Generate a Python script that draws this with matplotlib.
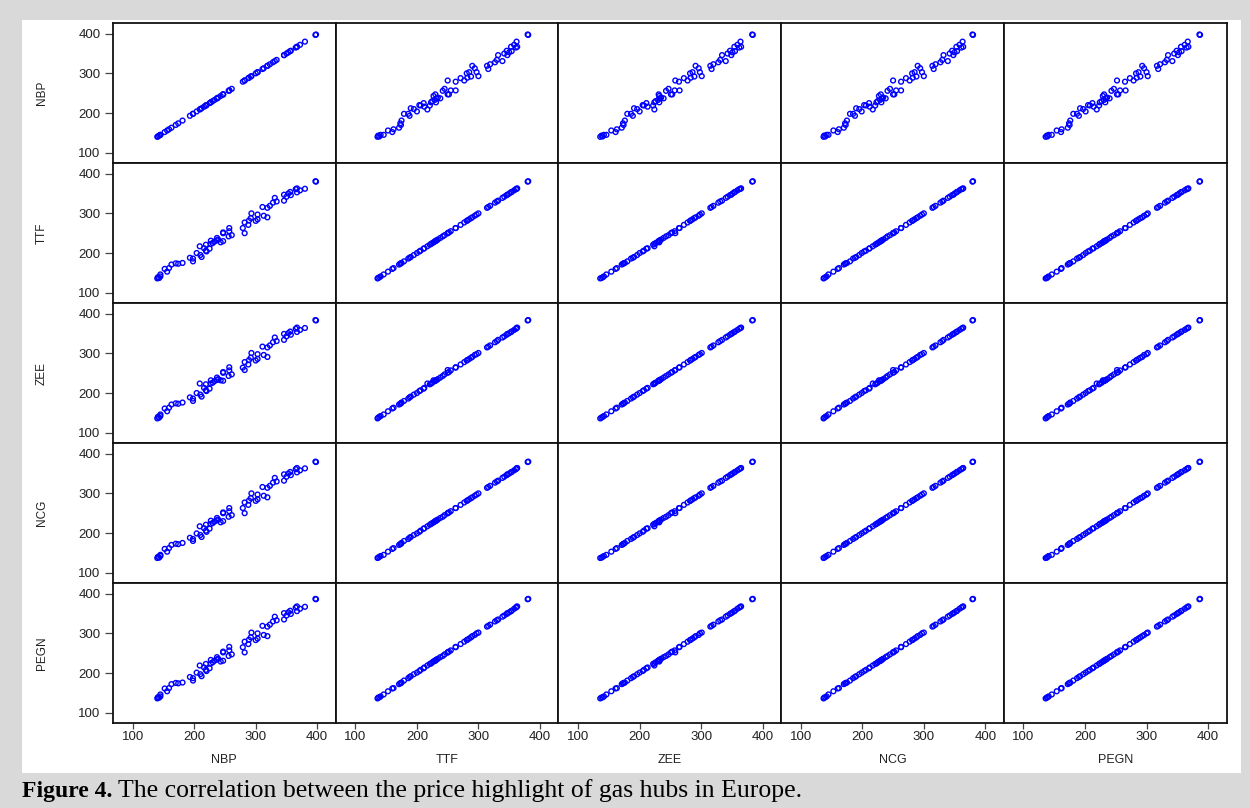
import matplotlib
matplotlib.use("Agg")
import matplotlib.pyplot as plt
from matplotlib.patches import Rectangle

# ---- data ----
hubs = ["NBP", "TTF", "ZEE", "NCG", "PEGN"]
ticks = [100, 200, 300, 400]

NBP = [140, 143, 141, 145, 145, 156, 152, 159, 163, 174, 181, 170, 198, 198, 193,
       212, 210, 204, 220, 219, 225, 216, 209, 219, 227, 230, 243, 247, 237, 239,
       237, 233, 227, 256, 261, 247, 247, 257, 257, 282, 279, 288, 282, 289, 300,
       303, 292, 319, 313, 303, 293, 319, 311, 323, 328, 334, 346, 331, 350, 357,
       346, 353, 367, 356, 372, 365, 380, 367, 398, 397]
TTF = [136, 137, 139, 141, 146, 153, 160, 162, 171, 173, 175, 174, 179, 186, 188,
       190, 195, 200, 204, 206, 211, 212, 217, 221, 223, 225, 227, 230, 232, 234,
       238, 229, 231, 242, 245, 250, 252, 255, 263, 250, 263, 271, 277, 282, 281,
       285, 288, 290, 294, 297, 300, 314, 316, 319, 327, 330, 332, 339, 342, 346,
       347, 350, 353, 354, 358, 361, 362, 363, 380, 381]
ZEE = [136, 138, 140, 142, 146, 154, 161, 163, 171, 173, 176, 174, 180, 186, 189,
       191, 196, 200, 205, 207, 211, 213, 224, 222, 224, 226, 232, 231, 233, 235,
       239, 230, 232, 243, 247, 251, 253, 257, 265, 258, 264, 272, 278, 283, 282,
       286, 289, 291, 296, 298, 301, 315, 317, 320, 328, 331, 334, 340, 343, 347,
       349, 351, 354, 355, 359, 362, 364, 365, 383, 384]
NCG = [137, 138, 140, 142, 145, 153, 160, 162, 170, 172, 175, 173, 180, 185, 188,
       190, 195, 199, 203, 206, 211, 212, 217, 221, 223, 225, 227, 230, 232, 234,
       238, 229, 231, 241, 245, 250, 252, 255, 263, 250, 263, 271, 277, 282, 281,
       285, 288, 290, 294, 297, 300, 314, 316, 319, 327, 330, 332, 339, 342, 346,
       348, 350, 353, 354, 358, 361, 363, 364, 379, 380]
PEGN = [136, 138, 139, 141, 146, 154, 161, 162, 172, 174, 176, 175, 181, 187, 190,
        192, 197, 201, 205, 208, 212, 214, 219, 223, 224, 227, 229, 231, 234, 236,
        240, 231, 233, 243, 247, 252, 254, 257, 266, 252, 265, 273, 279, 284, 283,
        287, 290, 293, 296, 300, 302, 317, 319, 322, 330, 333, 335, 342, 345, 349,
        351, 353, 356, 357, 362, 365, 367, 368, 386, 387]

caption_bold = "Figure 4."
caption_rest = " The correlation between the price highlight of gas hubs in Europe."

series = {"NBP": NBP, "TTF": TTF, "ZEE": ZEE, "NCG": NCG, "PEGN": PEGN}

# ---- figure ----
W, H = 1250, 808
fig = plt.figure(figsize=(W / 100, H / 100), dpi=100)
fig.patch.set_facecolor("#d9d9d9")
fig.add_artist(Rectangle((22 / W, 1 - 773 / H), (1241 - 22) / W, (773 - 20) / H,
                         transform=fig.transFigure, facecolor="white",
                         edgecolor="none", zorder=0))

left_px, right_px, top_px, bot_px = 113, 1226.5, 23, 723
n = len(hubs)
cw = (right_px - left_px) / n
rh = (bot_px - top_px) / n
xlim = (68, 430)
ylim = (74, 427)
font = "Liberation Sans"

for i, yname in enumerate(hubs):
    for j, xname in enumerate(hubs):
        x0 = left_px + j * cw
        y1 = top_px + i * rh
        ax = fig.add_axes([x0 / W, 1 - (y1 + rh) / H, cw / W, rh / H])
        ax.scatter(series[xname], series[yname], s=12, facecolors="none",
                   edgecolors="#0000ff", linewidths=1.0, zorder=3)
        ax.set_xlim(*xlim)
        ax.set_ylim(*ylim)
        for sp in ax.spines.values():
            sp.set_linewidth(1.3)
            sp.set_color("#111111")
        ax.set_xticks(ticks)
        ax.set_yticks(ticks)
        ax.tick_params(axis="y", length=6, width=0.9, pad=3, labelsize=9.5,
                       labelcolor="#222222", color="#444444",
                       left=(j == 0), labelleft=(j == 0))
        ax.tick_params(axis="x", length=4, width=0.9, pad=2, labelsize=9.5,
                       labelcolor="#222222", color="#444444",
                       bottom=(i == n - 1), labelbottom=(i == n - 1))
        for lab in ax.get_xticklabels() + ax.get_yticklabels():
            lab.set_fontfamily(font)
        if j == 0:
            fig.text(42 / W, 1 - (y1 + rh / 2) / H, yname, rotation=90,
                     ha="center", va="center", fontsize=8.5, family=font,
                     color="#222222")
        if i == n - 1:
            fig.text((x0 + cw / 2) / W, 1 - 760 / H, xname, ha="center",
                     va="center", fontsize=9, family=font, color="#222222")

t1 = fig.text(22 / W, 1 - 797 / H, caption_bold, ha="left", va="baseline",
              fontsize=17, fontweight="bold", family="Liberation Serif")
fig.axes[0].annotate(caption_rest, xy=(1, 0), xycoords=t1, ha="left",
                     va="bottom", fontsize=18.5, family="Liberation Serif",
                     annotation_clip=False)

fig.savefig("out.png", dpi=100, facecolor=fig.get_facecolor())
